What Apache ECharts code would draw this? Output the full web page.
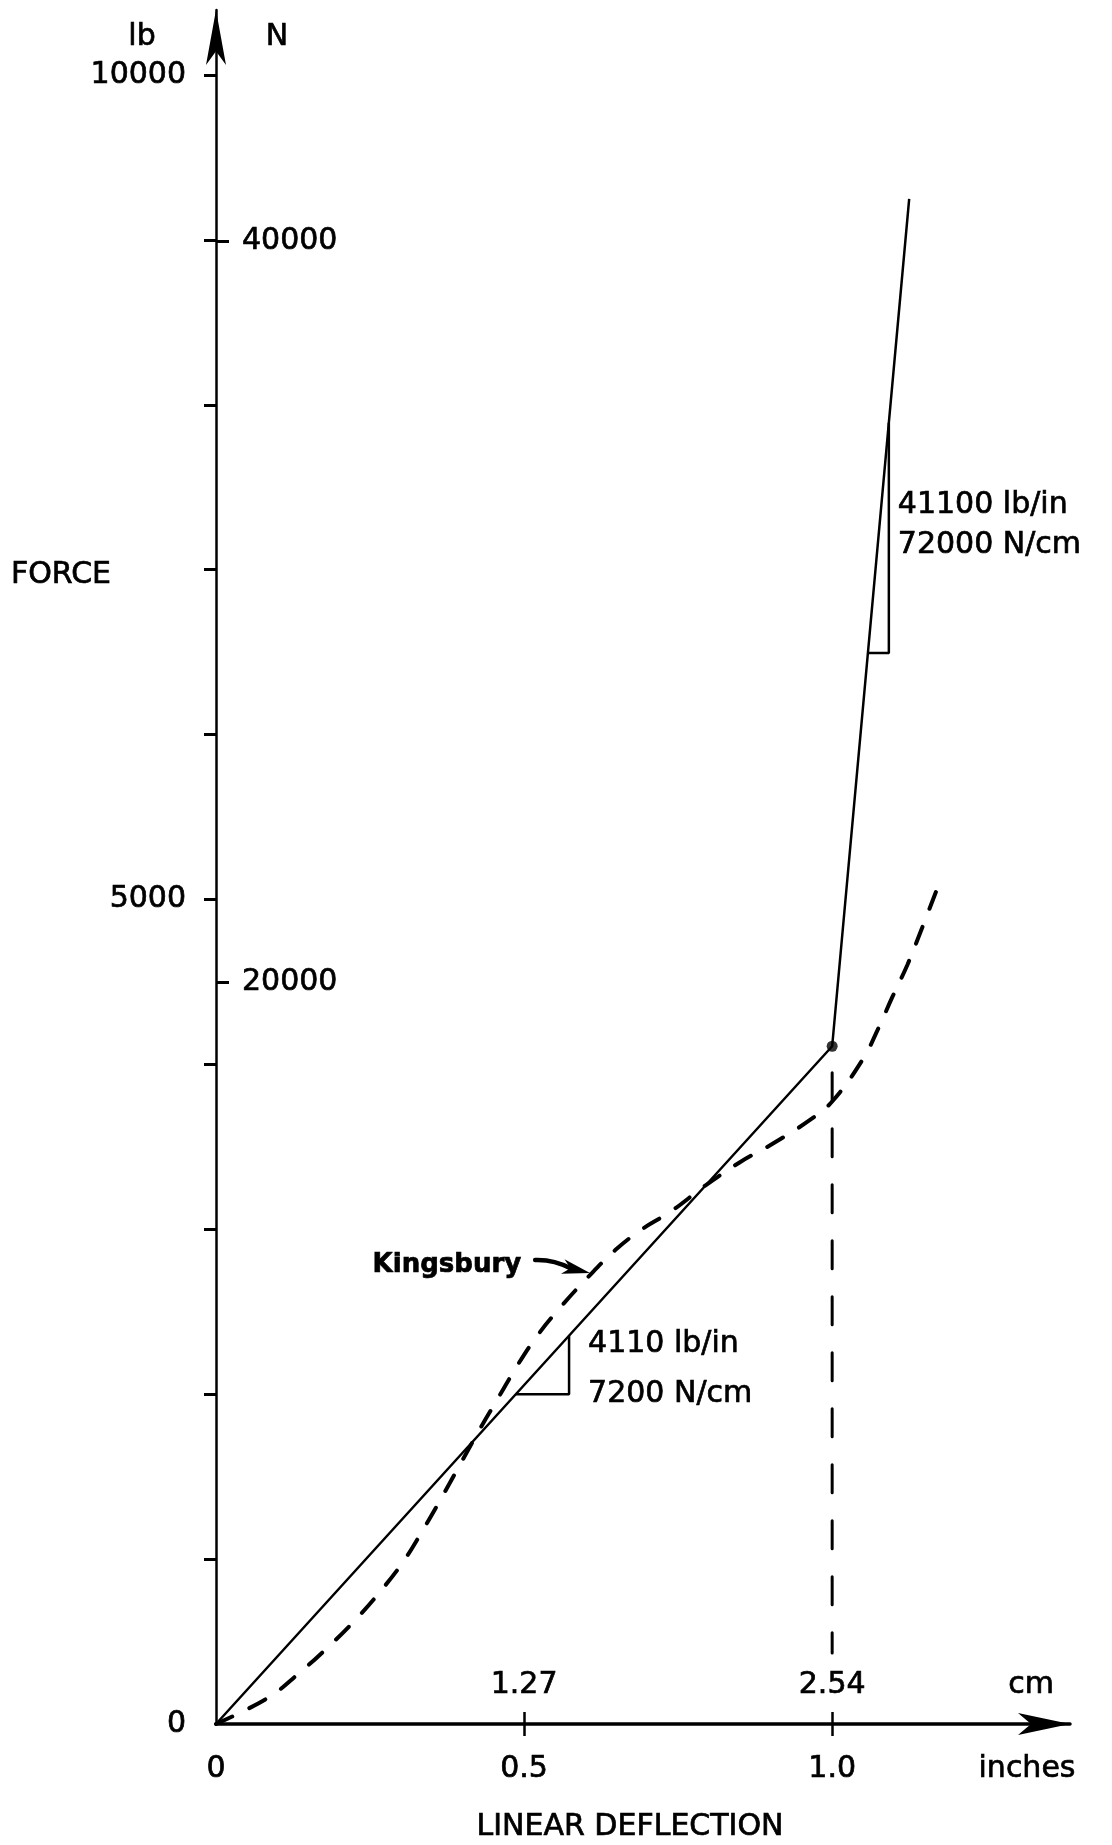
<!DOCTYPE html>
<html>
<head>
<meta charset="utf-8">
<title>Force vs linear deflection</title>
<script src="https://cdn.jsdelivr.net/npm/echarts@6/dist/echarts.min.js"></script>
<style>
  html, body { margin: 0; padding: 0; background: #ffffff; }
  #chart { width: 1112px; height: 1845px; }
</style>
</head>
<body>
<div id="chart"></div>
<script>
// ---- axis ticks and labels ----
const inchLabelValues = [0, 0.5, 1.0];
const inchTickValues = [0.5, 1.0];
const cmLabelValues = [1.27, 2.54];
const lbTickValues = [1000, 2000, 3000, 4000, 5000, 6000, 7000, 8000, 9000, 10000];
const lbLabelValues = [0, 5000, 10000];
const newtonLabelValues = [20000, 40000];

// ---- bilinear spring (deflection in inches, force in lb) ----
const springX = [0, 1.0, 1.125];
const springY = [0, 4110, 9248];
const kneeX = [1.0];
const kneeY = [4110];

// ---- Kingsbury curve ----
const kingsburyX = [0, 0.084, 0.135, 0.182, 0.227, 0.268, 0.304, 0.334, 0.365, 0.400,
  0.430, 0.460, 0.490, 0.521, 0.558, 0.604, 0.648, 0.692, 0.739, 0.794,
  0.851, 0.904, 0.964, 1.000, 1.050, 1.076, 1.097, 1.122, 1.144, 1.174];
const kingsburyY = [0, 158, 309, 467, 635, 810, 985, 1165, 1365, 1600,
  1800, 1990, 2180, 2353, 2523, 2711, 2874, 3002, 3110, 3265,
  3408, 3520, 3663, 3775, 4033, 4227, 4403, 4603, 4809, 5100];

// ---- dashed drop line under the knee ----
const dropX = [1.0, 1.0];
const dropY = [3950, 430];

// ---- slope triangles ----
const softTriX = [0.487, 0.573, 0.573];
const softTriY = [2000, 2000, 2355];
const stiffTriX = [1.058, 1.092, 1.092];
const stiffTriY = [6494, 6494, 7891];

// ---- pointer to the Kingsbury curve ----
const pointerFrom = [0.518, 2814];
const pointerTo = [0.607, 2735];

// ---- annotation texts ----
const softRateLines = ['4110 lb/in', '7200 N/cm'];
const stiffRateLines = ['41100 lb/in', '72000 N/cm'];

// axis ranges (the arrow tips sit at the ends) and unit conversions
const IN_MAX = 1.386;
const LB_MAX = 10394;
const N_PER_LB = 4.448;
const CM_PER_IN = 2.54;

const FONT = 'DejaVu Sans';
const INK = '#000000';
const TEXT_WEIGHT = 0.7; // extra outline to give the lettering a heavier pen

function zip(xs, ys) { return xs.map((x, i) => [x, ys[i]]); }

const chart = echarts.init(document.getElementById('chart'), null, { renderer: 'canvas' });

const labelStyle = { fontFamily: FONT, fontSize: 30, color: INK, textBorderColor: INK, textBorderWidth: TEXT_WEIGHT };

const option = {
  backgroundColor: '#ffffff',
  animation: false,
  grid: { left: 216, right: 42, top: 10, bottom: 121, outerBoundsMode: 'none', containLabel: false },
  xAxis: [
    {
      type: 'value', position: 'bottom', min: 0, max: IN_MAX,
      axisLine: { show: true, onZero: false, symbol: ['none', 'arrow'], symbolSize: [16.5, 52],
        lineStyle: { color: INK, width: 3.5 } },
      axisTick: { show: true, customValues: inchTickValues, length: 12, lineStyle: { color: INK, width: 2.5 } },
      axisLabel: Object.assign({ customValues: inchLabelValues, margin: 30,
        formatter: v => (v === 0 ? '0' : v.toFixed(1)) }, labelStyle),
      splitLine: { show: false }
    },
    {
      type: 'value', position: 'bottom', min: 0, max: IN_MAX * CM_PER_IN,
      axisLine: { show: false, onZero: false },
      axisTick: { show: true, inside: true, customValues: cmLabelValues, length: 12,
        lineStyle: { color: INK, width: 2.5 } },
      axisLabel: Object.assign({ inside: true, customValues: cmLabelValues, margin: 24,
        formatter: v => v.toFixed(2) }, labelStyle),
      splitLine: { show: false }
    }
  ],
  yAxis: [
    {
      type: 'value', position: 'left', min: 0, max: LB_MAX,
      axisLine: { show: true, onZero: false, symbol: ['none', 'arrow'], symbolSize: [15, 55],
        lineStyle: { color: INK, width: 2.5 } },
      axisTick: { show: true, customValues: lbTickValues, length: 12, lineStyle: { color: INK, width: 3 } },
      axisLabel: Object.assign({ customValues: lbLabelValues, margin: 30, formatter: v => String(v) }, labelStyle),
      splitLine: { show: false }
    },
    {
      type: 'value', position: 'left', min: 0, max: LB_MAX * N_PER_LB,
      axisLine: { show: false, onZero: false },
      axisTick: { show: true, inside: true, customValues: newtonLabelValues, length: 13,
        lineStyle: { color: INK, width: 3 } },
      axisLabel: Object.assign({ inside: true, customValues: newtonLabelValues, margin: 26,
        formatter: v => String(v) }, labelStyle),
      splitLine: { show: false }
    }
  ],
  series: [
    {
      name: 'spring', type: 'line', data: zip(springX, springY), symbol: 'none',
      lineStyle: { color: INK, width: 2.5 }, z: 3, silent: true
    },
    {
      name: 'knee', type: 'scatter', data: zip(kneeX, kneeY), symbolSize: 11,
      itemStyle: { color: INK }, z: 4, silent: true
    },
    {
      name: 'Kingsbury', type: 'line', data: zip(kingsburyX, kingsburyY), symbol: 'none',
      smooth: 0.4,
      lineStyle: { color: INK, width: 4, type: [18, 19], cap: 'round' }, z: 3, silent: true
    },
    {
      name: 'drop', type: 'line', data: zip(dropX, dropY), symbol: 'none',
      lineStyle: { color: INK, width: 3, type: [28, 28], cap: 'round' }, z: 3, silent: true
    },
    {
      name: 'soft slope', type: 'line', data: zip(softTriX, softTriY), symbol: 'none',
      lineStyle: { color: INK, width: 2.5 }, z: 3, silent: true
    },
    {
      name: 'stiff slope', type: 'line', data: zip(stiffTriX, stiffTriY), symbol: 'none',
      lineStyle: { color: INK, width: 2.5 }, z: 3, silent: true
    },
    {
      name: 'pointer', type: 'custom', clip: false, silent: true, z: 5,
      data: [[pointerFrom[0], pointerFrom[1], pointerTo[0], pointerTo[1]]],
      encode: { x: [0, 2], y: [1, 3] },
      renderItem: function (params, api) {
        const a = api.coord([api.value(0), api.value(1)]);
        const b = api.coord([api.value(2), api.value(3)]);
        const dx = b[0] - a[0], dy = b[1] - a[1];
        const len = Math.hypot(dx, dy);
        const ux = dx / len, uy = dy / len;
        const nx = -uy, ny = ux;
        const headLen = 28, headW = 7.5;
        const base = [b[0] - ux * headLen, b[1] - uy * headLen];
        const notch = [b[0] - ux * headLen * 0.72, b[1] - uy * headLen * 0.72];
        return {
          type: 'group',
          children: [
            {
              type: 'bezierCurve',
              shape: { x1: a[0], y1: a[1], x2: notch[0], y2: notch[1],
                cpx1: (a[0] + notch[0]) / 2 - nx * 5, cpy1: (a[1] + notch[1]) / 2 - ny * 5 },
              style: { stroke: INK, lineWidth: 4.5, fill: null, lineCap: 'round' }
            },
            {
              type: 'polygon',
              shape: { points: [b, [base[0] + nx * headW, base[1] + ny * headW], notch,
                [base[0] - nx * headW, base[1] - ny * headW]] },
              style: { fill: INK }
            }
          ]
        };
      }
    }
  ]
};

chart.setOption(option);

// texts placed around the plot
function toPx(x, y) { return chart.convertToPixel({ xAxisIndex: 0, yAxisIndex: 0 }, [x, y]); }
function txt(text, x, y, align, font) {
  return {
    type: 'text', x: x, y: y, silent: true, z: 10,
    style: { text: text, fill: INK, stroke: INK, lineWidth: TEXT_WEIGHT,
      font: font || ('30px "' + FONT + '"'), textAlign: align, textVerticalAlign: 'middle' }
  };
}

const originPx = toPx(0, 0);
const xEndPx = toPx(IN_MAX, 0);
const softAnchor = toPx(softTriX[2], softTriY[2]);
const softBase = toPx(softTriX[2], softTriY[0]);
const stiffAnchor = toPx(stiffTriX[2], stiffTriY[2]);
const pointerStart = toPx(pointerFrom[0], pointerFrom[1]);

const elements = [
  txt('lb', originPx[0] - 74, 37, 'center'),
  txt('N', originPx[0] + 61, 37, 'center'),
  txt('FORCE', 61, 575, 'center'),
  txt('cm', xEndPx[0] - 39, originPx[1] - 39, 'center'),
  txt('inches', xEndPx[0] - 43, originPx[1] + 45, 'center'),
  txt('LINEAR DEFLECTION', 630, 1827, 'center'),
  txt('Kingsbury', pointerStart[0] - 14, pointerStart[1] + 5, 'right', 'bold 26px "' + FONT + '"'),
  txt(softRateLines[0], softAnchor[0] + 19, softAnchor[1] + 9, 'left'),
  txt(softRateLines[1], softAnchor[0] + 19, softBase[1], 'left'),
  txt(stiffRateLines[0], stiffAnchor[0] + 9, stiffAnchor[1] + 82, 'left'),
  txt(stiffRateLines[1], stiffAnchor[0] + 9, stiffAnchor[1] + 122, 'left')
];

chart.setOption({ graphic: { elements: elements } });
</script>
</body>
</html>
